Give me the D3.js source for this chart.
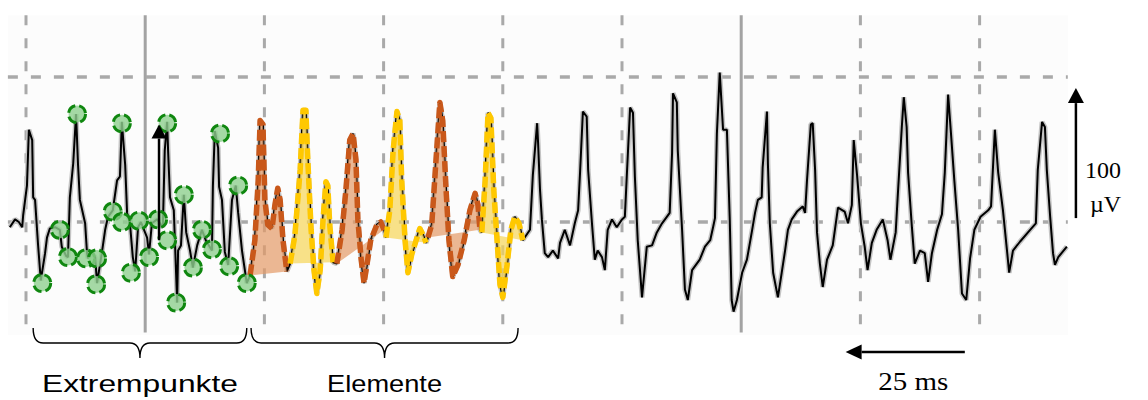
<!DOCTYPE html>
<html>
<head>
<meta charset="utf-8">
<script src="https://cdn.jsdelivr.net/npm/d3@7"></script>
<style>
  body { margin: 0; background: #fff; }
  svg { display: block; }
</style>
</head>
<body>
<div id="chart"></div>
<script>
// time in ms, amplitude in µV
const traceTime = [-3.4,-2.3,-1.5,-0.8,-0.6,0.2,0.6,1.3,1.5,1.9,2.5,3.1,4.0,4.4,5.0,6.1,7.1,7.5,8.4,8.8,9.2,9.9,10.5,10.9,11.3,12.4,12.8,13.0,13.8,14.5,14.9,15.9,16.6,17.2,18.2,19.1,19.7,20.1,20.8,21.2,21.8,22.4,22.9,23.5,24.1,25.4,25.8,26.4,27.5,28.7,29.1,29.6,29.8,30.2,31.0,31.7,31.9,32.5,33.1,33.6,34.4,35.0,35.9,36.9,37.7,39.0,39.2,39.6,40.3,40.5,41.1,41.7,42.4,43.2,44.0,44.5,45.3,46.3,
  47.0,48.0,48.7,49.1,49.7,50.1,50.7,51.6,52.2,52.8,53.3,53.9,54.7,
  55.4,56.4,57.5,58.1,58.7,59.1,59.8,60.4,61.0,61.7,62.3,62.9,63.3,63.7,64.4,
  65.2,66.3,67.1,67.9,68.6,69.2,69.6,70.3,70.9,71.5,72.3,73.6,74.4,75.1,
  75.5,76.3,77.0,77.8,78.4,78.8,79.5,80.1,80.9,82.0,82.6,83.3,83.9,
  84.3,85.1,86.0,86.8,87.4,88.1,88.7,89.5,90.6,91.9,93.1,94.2,94.8,95.2,
  95.6,96.3,96.9,97.5,98.1,98.8,99.4,100.0,100.9,101.7,102.5,103.4,104.2,
  105.7,106.3,107.2,107.4,107.8,108.2,108.8,109.5,110.5,111.6,112.0,113.0,114.1,115.1,115.8,116.2,116.8,117.6,117.9,118.7,119.3,119.9,120.8,121.4,122.0,122.9,123.9,125.0,125.6,126.0,126.7,127.3,127.7,128.3,129.2,129.4,130.2,131.3,132.3,133.4,134.4,135.0,135.5,135.7,136.5,136.7,137.6,138.2,138.8,139.7,141.3,142.4,143.5,144.1,144.5,144.9,145.5,146.2,147.0,147.6,148.0,148.4,149.1,150.2,151.2,152.3,152.9,153.5,154.3,154.5,155.4,155.6,156.0,156.7,157.7,158.5,159.2,159.8,160.6,161.7,162.9,163.4,163.8,164.6,165.0,165.5,165.9,166.5,167.1,168.0,169.2,170.3,171.7,172.4,173.2,173.6,174.3,175.1,175.9,176.5,177.4,178.4,179.7,180.7,181.3,182.4,182.8,183.7,184.1,184.7,185.0,185.8,186.4,187.5,188.5,189.2,190.0,191.1,192.1,192.7,193.4,194.0,194.7,195.5,196.3,197.2,198.0,198.9,200.2,201.8,202.4,203.2,203.9,204.9,205.8,206.2,207.0,208.5,210.6,211.8,212.2,213.1,213.7,214.1,214.8,215.4,215.8,216.5,218.3];
const traceAmp = [-4,2,0,-4,5,28,71,63,19,17,-16,-45,-24,-12,-5,-4,-6,-19,-26,-27,19,45,83,45,17,-1,-24,-28,-24,-27,-47,-24,-6,4,9,32,35,77,44,7,-1,-27,-38,-4,0,-12,-25,-1,2,-4,55,77,55,19,9,-62,-22,-18,21,-8,-22,-35,-18,-6,-14,-22,28,70,57,27,17,-23,-33,17,28,7,-22,-47,
  -41,-14,32,78,75,17,-2,-5,13,26,17,-14,-38,
  -32,-10,40,86,86,48,-6,-37,-55,-37,2,31,28,-2,-31,
  -32,-6,25,63,68,48,2,-29,-47,-33,-14,-2,0,-6,
  -12,9,55,85,78,32,-14,-39,-25,-12,-5,-10,-16,
  -12,-2,48,92,78,25,-14,-42,-33,-14,9,22,13,-6,
  -8,32,84,80,25,-14,-48,-58,-33,-6,4,-1,-14,
  -6,36,76,61,25,2,-24,-27,-22,-28,-16,-6,-18,-1,9,38,85,81,40,-1,-29,-22,-27,-37,-6,2,-4,2,4,35,88,84,35,-14,-58,-50,-19,-18,-8,-1,4,7,53,99,92,55,-6,-52,-60,-37,-29,-19,-14,-4,3,68,115,71,71,2,-60,-69,-60,-39,-29,-6,7,17,19,42,85,45,-1,-39,-58,-39,-22,-6,2,8,12,7,32,75,76,40,-8,-32,-50,-29,-18,11,8,-1,13,63,36,-1,-19,-37,-16,-6,2,-14,-29,-8,18,74,96,73,38,-4,-32,-22,-24,-46,-24,-6,6,38,98,68,32,-6,-55,-60,-28,-6,4,9,12,71,38,9,-24,-39,-22,-15,-6,-1,40,77,73,40,4,-24,-33,-27,-19];

// feature elements: kind, first and last time (ms) of each marked wave
const elementKind  = ["a", "b", "a", "b", "a", "b"];
const elementStart = [47.0, 55.4, 65.2, 75.5, 84.3, 95.6];
const elementEnd   = [54.7, 64.4, 75.1, 83.9, 95.2, 104.2];

// detected extreme points
const extremaTime = [3.4,10.7,7.1,8.8,12.6,14.9,14.7,18.2,20.1,20.1,22.0,23.7,25.8,27.7,29.6,29.6,31.5,33.1,35.0,36.9,39.0,40.7,44.5,42.6,46.3];
const extremaAmp  = [-47,83,-6,-27,-28,-28,-48,8,0,76,-39,1,-27,2,76,-14,-62,21,-35,-6,-21,68,28,-34,-47];

const gridTimes = [0, 25, 50, 75, 100, 125, 150, 175, 200];
const solidTimes = [25, 150];
const gridAmps = [0, 111.5];

const groupLabels = ["Extrempunkte", "Elemente"];
const groupStart = [1.5, 47.2];
const groupEnd = [46.3, 103.2];

document.addEventListener('DOMContentLoaded', function () {
    const width = 1148;
    const height = 400;

    const x = d3.scaleLinear().domain([0, 25]).range([26, 145.2]);
    const y = d3.scaleLinear().domain([0, 100]).range([222, 92]);

    const svg = d3.create("svg")
        .attr("width", width)
        .attr("height", height)
        .attr("viewBox", [0, 0, width, height]);

    // faint panel
    svg.append("rect")
        .attr("x", x(-3.8)).attr("y", y(159))
        .attr("width", x(218.5) - x(-3.8)).attr("height", y(-87) - y(159))
        .attr("fill", "#fcfcfc");

    // grid
    const grid = svg.append("g");
    grid.selectAll(".vline")
        .data(gridTimes.filter(t => !solidTimes.includes(t)))
        .join("line")
        .attr("x1", d => x(d)).attr("x2", d => x(d))
        .attr("y1", y(159)).attr("y2", y(-85))
        .attr("stroke", "#a9a9a9")
        .attr("stroke-width", 3)
        .attr("stroke-dasharray", "10,13");
    grid.selectAll(".sline")
        .data(solidTimes)
        .join("line")
        .attr("x1", d => x(d)).attr("x2", d => x(d))
        .attr("y1", y(159)).attr("y2", y(-85))
        .attr("stroke", "#a3a3a3")
        .attr("stroke-width", 3);
    grid.selectAll(".hline")
        .data(gridAmps)
        .join("line")
        .attr("x1", x(-3.8)).attr("x2", x(218.5))
        .attr("y1", d => y(d)).attr("y2", d => y(d))
        .attr("stroke", "#a9a9a9")
        .attr("stroke-width", 3.5)
        .attr("stroke-dasharray", "10,13");

    const pts = traceTime.map((t, i) => [t, traceAmp[i]]);
    const line = d3.line().x(d => x(d[0])).y(d => y(d[1]));

    // trace, grey halo + black core
    svg.append("path")
        .attr("d", line(pts))
        .attr("fill", "none")
        .attr("stroke", "#c4c4c4")
        .attr("stroke-width", 5)
        .attr("stroke-linejoin", "bevel");
    svg.append("path")
        .attr("d", line(pts))
        .attr("fill", "none")
        .attr("stroke", "#000")
        .attr("stroke-width", 2)
        .attr("stroke-linejoin", "bevel");

    // elements
    const colors = {
        a: { fill: "#e49a66", stroke: "#c9581a" },
        b: { fill: "#f7d657", stroke: "#ffc800" }
    };
    const elements = elementKind.map((k, i) => ({
        kind: k,
        points: pts.filter(p => p[0] >= elementStart[i] - 0.01 && p[0] <= elementEnd[i] + 0.01)
    }));
    const eg = svg.append("g");
    eg.selectAll(".efill")
        .data(elements)
        .join("path")
        .attr("d", d => line(d.points) + "Z")
        .attr("fill", d => colors[d.kind].fill)
        .attr("fill-opacity", 0.7)
        .attr("stroke", "none");
    eg.selectAll(".estroke")
        .data(elements)
        .join("path")
        .attr("d", d => line(d.points))
        .attr("fill", "none")
        .attr("stroke", d => colors[d.kind].stroke)
        .attr("stroke-width", 5.5)
        .attr("stroke-dasharray", "11,4")
        .attr("stroke-linecap", "butt")
        .attr("stroke-linejoin", "round");

    // extreme points
    svg.append("g")
        .selectAll("circle")
        .data(extremaTime.map((t, i) => [t, extremaAmp[i]]))
        .join("circle")
        .attr("cx", d => x(d[0]))
        .attr("cy", d => y(d[1]))
        .attr("r", 8.5)
        .attr("fill", "#8fd08f")
        .attr("fill-opacity", 0.8)
        .attr("stroke", "#0f870f")
        .attr("stroke-width", 3)
        .attr("stroke-dasharray", "10,4");

    const arrow = (x1, y1, x2, y2, hw, hl) => {
        const g = svg.append("g");
        const ang = Math.atan2(y2 - y1, x2 - x1);
        const bx = x2 - hl * Math.cos(ang), by = y2 - hl * Math.sin(ang);
        g.append("line")
            .attr("x1", x1).attr("y1", y1).attr("x2", bx).attr("y2", by)
            .attr("stroke", "#000").attr("stroke-width", 2.5);
        const nx = -Math.sin(ang) * hw / 2, ny = Math.cos(ang) * hw / 2;
        g.append("path")
            .attr("d", `M${x2},${y2}L${bx + nx},${by + ny}L${bx - nx},${by - ny}Z`)
            .attr("fill", "#000");
    };

    // arrow in the extreme point group
    arrow(x(27.9), y(-14), x(27.9), y(75), 15, 14);

    // scale bars
    arrow(x(220.2), y(3), x(220.2), y(103), 16, 15);
    arrow(x(196.9), y(-100), x(171.9), y(-100), 15, 16);

    svg.append("text")
        .attr("x", x(220.2) + 9).attr("y", y(34))
        .attr("font-family", "Liberation Serif, serif")
        .attr("font-size", 24)
        .text("100");
    svg.append("text")
        .attr("x", x(220.2) + 14).attr("y", y(8))
        .attr("font-family", "Liberation Serif, serif")
        .attr("font-size", 24)
        .text("µV");
    svg.append("text")
        .attr("x", (x(196.9) + x(171.9)) / 2 + 8).attr("y", 390)
        .attr("text-anchor", "middle")
        .attr("font-family", "Liberation Serif, serif")
        .attr("font-size", 25)
        .attr("textLength", 70)
        .attr("lengthAdjust", "spacingAndGlyphs")
        .text("25 ms");

    // braces
    const brace = (x0, x1, top, h) => {
        const m = (x0 + x1) / 2, r = 10, h1 = h * 0.5;
        return `M${x0},${top} Q${x0},${top + h1} ${x0 + r},${top + h1} L${m - r},${top + h1} Q${m},${top + h1} ${m},${top + h} Q${m},${top + h1} ${m + r},${top + h1} L${x1 - r},${top + h1} Q${x1},${top + h1} ${x1},${top}`;
    };
    const labelWidths = [196, 115];
    groupLabels.forEach((lab, i) => {
        const x0 = x(groupStart[i]), x1 = x(groupEnd[i]);
        svg.append("path")
            .attr("d", brace(x0, x1, 328, 30))
            .attr("fill", "none")
            .attr("stroke", "#000")
            .attr("stroke-width", 1.4);
        svg.append("text")
            .attr("x", (x0 + x1) / 2).attr("y", 392)
            .attr("text-anchor", "middle")
            .attr("font-family", "Liberation Sans, Arial, sans-serif")
            .attr("font-size", 24)
            .attr("textLength", labelWidths[i])
            .attr("lengthAdjust", "spacingAndGlyphs")
            .text(lab);
    });

    document.getElementById("chart").appendChild(svg.node());
});
</script>
</body>
</html>
